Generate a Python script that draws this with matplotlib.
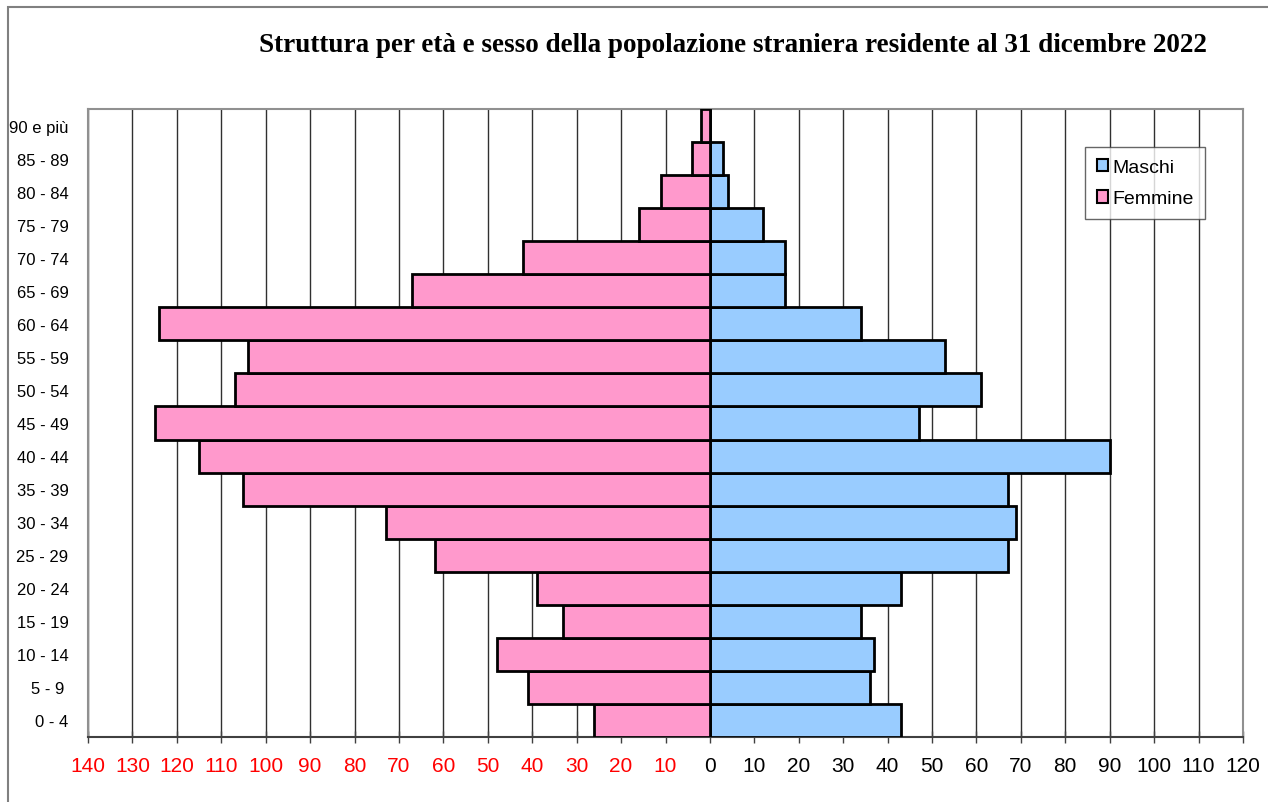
import matplotlib
matplotlib.use("Agg")
import matplotlib.pyplot as plt
from matplotlib.patches import Rectangle, Patch
import numpy as np

age_groups = ["0 - 4", "5 - 9 ", "10 - 14", "15 - 19", "20 - 24", "25 - 29", "30 - 34",
              "35 - 39", "40 - 44", "45 - 49", "50 - 54", "55 - 59", "60 - 64",
              "65 - 69", "70 - 74", "75 - 79", "80 - 84", "85 - 89", "90 e più"]
maschi = [43, 36, 37, 34, 43, 67, 69, 67, 90, 47, 61, 53, 34, 17, 17, 12, 4, 3, 0]
femmine = [26, 41, 48, 33, 39, 62, 73, 105, 115, 125, 107, 104, 124, 67, 42, 16, 11, 4, 2]
xticks = list(range(-140, 121, 10))
xlabels = [str(abs(v)) for v in xticks]

plt.rcParams['font.family'] = ['Liberation Sans', 'DejaVu Sans']

fig = plt.figure(figsize=(12.68, 8.03), dpi=100)
fig.patches.append(Rectangle((8/1268, -0.1), 1.2, 1 - 8/803 + 0.1, transform=fig.transFigure,
                             fill=False, edgecolor='#808080', linewidth=1.5))

ax = fig.add_axes([88/1268, 1 - 738/803, (1243 - 88)/1268, (738 - 110)/803])
y = np.arange(len(age_groups))
ax.barh(y, maschi, height=1.0, color='#99ccff', edgecolor='black', linewidth=2, label='Maschi', zorder=3)
ax.barh(y, [-v for v in femmine], height=1.0, color='#ff99cc', edgecolor='black', linewidth=2, label='Femmine', zorder=3)

ax.set_xlim(-140, 120)
ax.set_ylim(-0.5, len(age_groups) - 0.5)
ax.set_xticks(xticks)
ax.set_xticklabels(xlabels, fontsize=15)
for lbl, v in zip(ax.get_xticklabels(), xticks):
    lbl.set_color('red' if v < 0 else 'black')
ax.tick_params(axis='x', direction='inout', length=8, width=1, color='#404040', pad=10)
ax.set_yticks(y)
ax.set_yticklabels(age_groups, fontsize=12)
ax.tick_params(axis='y', length=0, pad=14)

ax.grid(axis='x', color='#303030', linewidth=1, zorder=0)
ax.set_axisbelow(True)
for s in ['left', 'top', 'right']:
    ax.spines[s].set_color('#909090')
    ax.spines[s].set_linewidth(1.5)
ax.spines['bottom'].set_color('#404040')
ax.spines['bottom'].set_linewidth(1.5)

fig.text(733/1268, 1 - 45/803, "Struttura per età e sesso della popolazione straniera residente al 31 dicembre 2022",
         ha='center', va='center', fontsize=19.5, fontweight='bold', family='Liberation Serif')

handles = [Patch(facecolor='#99ccff', edgecolor='black', linewidth=1.5),
           Patch(facecolor='#ff99cc', edgecolor='black', linewidth=1.5)]
leg = ax.legend(handles, ['Maschi', 'Femmine'], loc='upper left',
                bbox_to_anchor=((1085 - 88)/(1243 - 88), 1 - (148 - 110)/(738 - 110)),
                fontsize=14, frameon=True, fancybox=False, handlelength=0.6, handleheight=0.6,
                handletextpad=0.2, borderpad=0.6, labelspacing=0.75, borderaxespad=0)
leg.get_frame().set_edgecolor('#404040')
leg.get_frame().set_linewidth(1)

fig.savefig("out.png", dpi=100)
